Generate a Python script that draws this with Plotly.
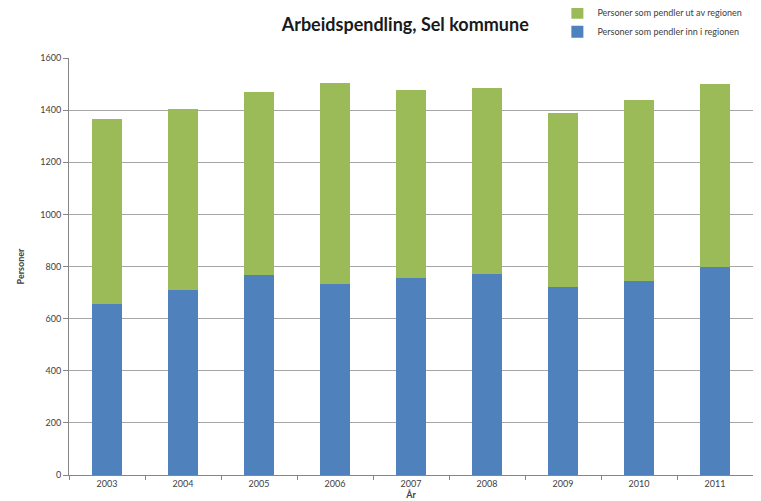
import plotly.graph_objects as go

years = ["2003", "2004", "2005", "2006", "2007", "2008", "2009", "2010", "2011"]
inn_regionen = [655, 709, 766, 733, 756, 770, 720, 746, 800]
ut_regionen = [711, 694, 705, 772, 720, 716, 669, 691, 702]
y_ticks = [0, 200, 400, 600, 800, 1000, 1200, 1400, 1600]

FONT = "Lato, 'Liberation Sans', sans-serif"

fig = go.Figure()
fig.add_trace(go.Bar(x=years, y=inn_regionen, name="Personer som pendler inn i regionen",
                     marker=dict(color="#4F81BD", line=dict(width=0))))
fig.add_trace(go.Bar(x=years, y=ut_regionen, name="Personer som pendler ut av regionen",
                     marker=dict(color="#9BBB59", line=dict(width=0))))

fig.update_layout(
    width=761, height=501,
    barmode="stack", bargap=0.6,
    paper_bgcolor="white", plot_bgcolor="white",
    margin=dict(l=61, r=16, t=50, b=34, autoexpand=False),
    font=dict(family=FONT, size=9, color="#404040"),
    title=dict(text="<b>Arbeidspendling, Sel kommune</b>", x=0.522, xanchor="center",
               y=0.966, yanchor="middle", font=dict(size=18, color="#1a1a1a", family=FONT)),
    legend=dict(x=0.714, y=1.143, xanchor="left", yanchor="top", traceorder="reversed",
                font=dict(size=9, color="#404040"), itemwidth=30, tracegroupgap=0,
                bgcolor="rgba(0,0,0,0)"),
    showlegend=True,
)
fig.update_xaxes(
    type="category", showline=True, linecolor="#868686", linewidth=1,
    ticks="outside", tickson="boundaries", ticklen=4, tickcolor="#868686",
    tickfont=dict(size=9, color="#404040"),
    title=dict(text="<b>År</b>", font=dict(size=9, color="#404040"), standoff=0),
)
fig.update_yaxes(
    range=[0, 1600], tickvals=y_ticks, showline=True, linecolor="#868686", linewidth=1,
    ticks="outside", ticklen=5, tickcolor="#868686",
    showgrid=True, gridcolor="#a6a6a6", gridwidth=1, zeroline=False,
    tickfont=dict(size=9, color="#404040"),
    title=dict(text="<b>Personer</b>", font=dict(size=9, color="#404040"), standoff=14),
)

fig.write_html("out.html")
